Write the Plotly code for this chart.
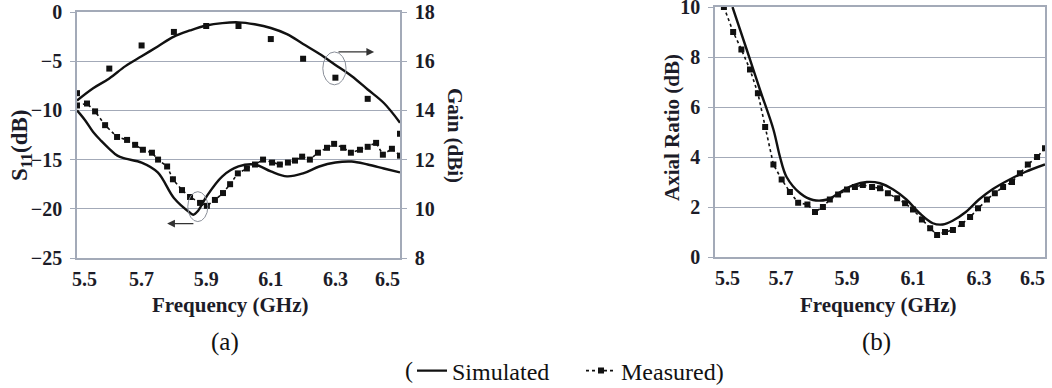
import plotly.graph_objects as go

# ---------------- data ----------------
# (a) Gain – simulated
gain_sim_f = [5.50, 5.55, 5.60, 5.65, 5.70, 5.75, 5.80, 5.85, 5.90, 5.95, 6.00,
              6.05, 6.10, 6.15, 6.20, 6.25, 6.30, 6.35, 6.40, 6.45, 6.50]
gain_sim = [14.4, 14.9, 15.3, 15.8, 16.2, 16.6, 17.0, 17.25, 17.45, 17.55, 17.58,
            17.5, 17.35, 17.1, 16.7, 16.3, 15.85, 15.4, 14.85, 14.3, 13.5]
# (a) Gain – measured
gain_meas_f = [5.5, 5.6, 5.7, 5.8, 5.9, 6.0, 6.1, 6.2, 6.3, 6.4, 6.5]
gain_meas = [14.7, 15.7, 16.64, 17.19, 17.43, 17.43, 16.9, 16.1, 15.33, 14.47, 13.05]

# (a) S11 – simulated
s11_sim_f = [5.50, 5.525, 5.55, 5.575, 5.60, 5.625, 5.65, 5.70, 5.75, 5.80, 5.85, 5.86,
             5.875, 5.90, 5.95, 6.00, 6.05, 6.10, 6.15, 6.20, 6.25, 6.30, 6.35, 6.40,
             6.45, 6.50]
s11_sim = [-10.0, -11.0, -12.2, -13.1, -13.9, -14.6, -14.9, -15.3, -16.3, -18.9, -20.4, -20.6,
           -20.2, -18.8, -16.7, -15.7, -15.5, -16.2, -16.7, -16.4, -15.7, -15.3, -15.2, -15.5,
           -15.9, -16.3]
# (a) S11 – measured
s11_meas_f = [5.500, 5.531, 5.556, 5.587, 5.624, 5.655, 5.680, 5.704, 5.732, 5.751, 5.779,
              5.797, 5.825, 5.850, 5.881, 5.902, 5.927, 5.952, 5.974, 5.998, 6.026, 6.051,
              6.076, 6.104, 6.128, 6.153, 6.175, 6.197, 6.221, 6.246, 6.274, 6.296, 6.324,
              6.348, 6.376, 6.400, 6.426, 6.447, 6.475, 6.500]
s11_meas = [-9.5, -9.3, -10.1, -11.5, -12.7, -13.0, -13.5, -14.0, -14.3, -15.0, -15.7,
            -17.0, -18.1, -18.8, -19.4, -19.7, -19.1, -18.4, -17.5, -16.4, -15.9, -15.5,
            -15.0, -15.3, -15.5, -15.3, -15.1, -14.7, -15.0, -14.3, -13.8, -13.4, -13.8,
            -14.3, -14.0, -13.7, -13.3, -14.5, -13.9, -14.6]

# (b) Axial ratio – simulated
ar_sim_f = [5.553, 5.596, 5.636, 5.677, 5.697, 5.717, 5.758, 5.797, 5.84, 5.88, 5.92,
            5.96, 6.0, 6.04, 6.08, 6.12, 6.16, 6.19, 6.22, 6.26, 6.30, 6.34, 6.39, 6.44, 6.50]
ar_sim = [10.0, 8.3, 6.7, 5.1, 4.0, 3.2, 2.55, 2.28, 2.3, 2.6, 2.88,
          3.0, 2.95, 2.7, 2.3, 1.75, 1.35, 1.3, 1.45, 1.8, 2.3, 2.7, 3.08, 3.4, 3.7]
# (b) Axial ratio – measured
ar_meas_f = [5.527, 5.555, 5.58, 5.606, 5.63, 5.652, 5.677, 5.702, 5.727, 5.752, 5.78,
             5.803, 5.827, 5.848, 5.873, 5.9, 5.924, 5.948, 5.976, 6.0, 6.024, 6.052,
             6.076, 6.1, 6.127, 6.152, 6.173, 6.197, 6.221, 6.248, 6.273, 6.297, 6.324,
             6.348, 6.373, 6.4, 6.424, 6.448, 6.476, 6.5]
ar_meas = [10.0, 9.0, 8.3, 7.5, 6.55, 5.2, 3.7, 3.1, 2.6, 2.17, 2.1,
           1.8, 2.0, 2.3, 2.5, 2.7, 2.8, 2.88, 2.8, 2.75, 2.55, 2.35,
           2.15, 1.9, 1.5, 1.15, 0.88, 1.0, 1.08, 1.32, 1.6, 1.95, 2.3,
           2.55, 2.8, 3.0, 3.35, 3.7, 4.0, 4.35]

freq_ticks = [5.5, 5.7, 5.9, 6.1, 6.3, 6.5]
freq_ticktext = ["5.5", "5.7", "5.9", "6.1", "6.3", "6.5"]
s11_ticks = [0, -5, -10, -15, -20, -25]
gain_ticks = [8, 10, 12, 14, 16, 18]
ar_ticks = [0, 2, 4, 6, 8, 10]

# ---------------- style ----------------
W, H = 1052, 388
INK = "#111111"
GRID = "#a3aab8"
SERIF = "Liberation Serif"
TXT = "#1c1c28"
TICKFONT = dict(family=SERIF, size=20, color=TXT, weight="bold")
NB = "\u00a0"


def tfont(size):
    return dict(family=SERIF, size=size, color=TXT, weight="bold")


def px(xp):
    return xp / W


def py(yp):
    return 1 - yp / H


# edge labels nudged inward as in the reference
ticktext_a = [NB * 3 + freq_ticktext[0]] + freq_ticktext[1:-1] + [freq_ticktext[-1] + NB * 5]
ticktext_b = [NB * 5 + freq_ticktext[0]] + freq_ticktext[1:-1] + [freq_ticktext[-1] + NB * 5]

sim_line = dict(color=INK, width=2.4)
meas_line = dict(color=INK, width=1.6, dash="dot")
meas_marker = dict(symbol="square", size=6, color=INK)

fig = go.Figure()

# (a) gain
fig.add_trace(go.Scatter(x=gain_sim_f, y=gain_sim, mode="lines", line=sim_line,
                         line_shape="spline", xaxis="x", yaxis="y2", showlegend=False))
fig.add_trace(go.Scatter(x=gain_meas_f, y=gain_meas, mode="markers", marker=meas_marker,
                         xaxis="x", yaxis="y2", showlegend=False))
# (a) S11
fig.add_trace(go.Scatter(x=s11_sim_f, y=s11_sim, mode="lines", line=sim_line,
                         line_shape="spline", xaxis="x", yaxis="y",
                         name="Simulated", showlegend=True, legendrank=1))
fig.add_trace(go.Scatter(x=s11_meas_f, y=s11_meas, mode="lines+markers", line=meas_line,
                         marker=meas_marker, xaxis="x", yaxis="y",
                         name="Measured)", showlegend=True, legendrank=2))
# (b) AR
fig.add_trace(go.Scatter(x=ar_sim_f, y=ar_sim, mode="lines", line=sim_line,
                         line_shape="spline", xaxis="x2", yaxis="y3", showlegend=False))
fig.add_trace(go.Scatter(x=ar_meas_f, y=ar_meas, mode="lines+markers", line=meas_line,
                         marker=meas_marker, xaxis="x2", yaxis="y3", showlegend=False))

common_x = dict(range=[5.5, 6.5], tickvals=freq_ticks,
                showgrid=False, showline=True, linecolor=GRID, linewidth=1.5,
                mirror=True, ticks="", tickfont=TICKFONT, zeroline=False,
                automargin=False, ticklabeloverflow="allow", ticklabelstandoff=2)
common_y = dict(showline=True, linecolor=GRID, linewidth=1.5, ticks="outside", ticklen=5,
                tickcolor=GRID, tickfont=TICKFONT, zeroline=False, automargin=False,
                ticklabelstandoff=4, ticklabeloverflow="allow")

fig.update_layout(
    width=W, height=H,
    margin=dict(l=0, r=0, t=0, b=0, autoexpand=False),
    paper_bgcolor="white", plot_bgcolor="white",
    xaxis=dict(domain=[px(77), px(400)], anchor="y", ticktext=ticktext_a, **common_x),
    yaxis=dict(domain=[py(258), py(12)], range=[-25, 0], tickvals=s11_ticks,
               showgrid=True, gridcolor=GRID, gridwidth=1.3, anchor="x", **common_y),
    yaxis2=dict(overlaying="y", side="right", range=[8, 18], tickvals=gain_ticks,
                showgrid=False, anchor="x", **common_y),
    xaxis2=dict(domain=[px(715), px(1045)], anchor="y3", ticktext=ticktext_b, **common_x),
    yaxis3=dict(domain=[py(257), py(7)], range=[0, 10], tickvals=ar_ticks,
                showgrid=True, gridcolor=GRID, gridwidth=1.3, mirror=True,
                anchor="x2", **common_y),
    legend=dict(orientation="h", x=px(412), xanchor="left", y=py(371), yanchor="middle",
                font=dict(family=SERIF, size=24, color=INK), entrywidth=124,
                bgcolor="rgba(0,0,0,0)", tracegroupgap=0, traceorder="normal"),
    showlegend=True,
)

ann = []


def label(text, xp, yp, font, angle=0):
    ann.append(dict(text=text, x=px(xp), y=py(yp), xref="paper", yref="paper",
                    xanchor="center", yanchor="middle", showarrow=False,
                    textangle=angle, font=font))


label("S<sub>11</sub>(dB)", 21, 146, tfont(23), -90)
label("Gain (dBi)", 455, 135, tfont(21), 90)
label("Axial Ratio (dB)", 672, 128, tfont(21), -90)
label("Frequency (GHz)", 230, 305, tfont(21))
label("Frequency (GHz)", 878, 305, tfont(21))
label("(a)", 225, 342, dict(family=SERIF, size=25, color=INK))
label("(b)", 876, 342, dict(family=SERIF, size=25, color=INK))
label("(", 409, 370, dict(family=SERIF, size=24, color=INK))

# callout arrows
ann.append(dict(x=6.42, y=-4.06, ax=6.305, ay=-4.06, xref="x", yref="y", axref="x", ayref="y",
                showarrow=True, arrowhead=2, arrowsize=1.2, arrowwidth=1.3, arrowcolor="#333",
                text=""))
ann.append(dict(x=5.779, y=-21.5, ax=5.865, ay=-21.5, xref="x", yref="y", axref="x", ayref="y",
                showarrow=True, arrowhead=2, arrowsize=1.2, arrowwidth=1.3, arrowcolor="#333",
                text=""))
fig.update_layout(annotations=ann)

# callout ellipses
fig.add_shape(type="circle", xref="x", yref="y", x0=6.261, x1=6.333, y0=-7.4, y1=-4.06,
              line=dict(color="#8a8f99", width=1))
fig.add_shape(type="circle", xref="x", yref="y", x0=5.843, x1=5.905, y0=-21.3, y1=-18.26,
              line=dict(color="#8a8f99", width=1))

fig.write_html("out.html", config={"displayModeBar": False},
               post_script="document.body.style.margin='0px';")
